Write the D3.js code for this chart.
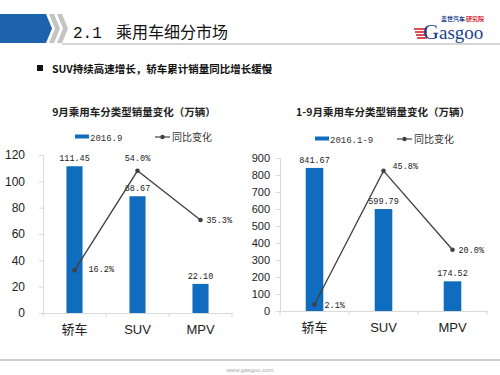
<!DOCTYPE html>
<html>
<head>
<meta charset="utf-8">
<script src="https://cdn.jsdelivr.net/npm/d3@7"></script>
<style>
  body { margin: 0; background: #fff; }
  svg { display: block; }
  .sans { font-family: "Liberation Sans", Arial, sans-serif; }
  .cjk { font-family: "Noto Sans CJK SC", sans-serif; }
  .mono { font-family: "Liberation Mono", "DejaVu Sans Mono", monospace; }
  .serif { font-family: "Liberation Serif", serif; }
</style>
</head>
<body>
<svg id="chart" width="500" height="375"></svg>
<script>
// categories and values
const categories = ["轿车", "SUV", "MPV"];
const monthSales = [111.45, 88.67, 22.10];
const monthGrowth = [0.162, 0.540, 0.353];
const ytdSales = [841.67, 599.79, 174.52];
const ytdGrowth = [0.021, 0.458, 0.200];

const leftTicks = [0, 20, 40, 60, 80, 100, 120];
const rightTicks = [0, 100, 200, 300, 400, 500, 600, 700, 800, 900];

const barColor = "#0f6cbf";
const lineColor = "#404040";
const axisColor = "#d9d9d9";

const svg = d3.select("#chart");

// ---- page header ----
svg.append("path")
  .attr("d", "M0,14 L46,14 L52,28.5 L46,43 L0,43 Z")
  .attr("fill", "#1d62ad");
[0, 8].forEach(dx => {
  svg.append("path")
    .attr("d", `M${49 + dx},14 L${54 + dx},14 L${60 + dx},28.5 L${54 + dx},43 L${49 + dx},43 L${55 + dx},28.5 Z`)
    .attr("fill", "#c4c4c4");
});
svg.append("line")
  .attr("x1", 62).attr("x2", 500).attr("y1", 44).attr("y2", 44)
  .attr("stroke", "#d6d6d6").attr("stroke-width", 2);

svg.append("text").attr("class", "mono")
  .attr("x", 73).attr("y", 38)
  .attr("font-size", 16).attr("fill", "#111")
  .text("2.1");
svg.append("text").attr("class", "cjk")
  .attr("x", 116).attr("y", 38)
  .attr("font-size", 16).attr("fill", "#111")
  .text("乘用车细分市场");

// logo
svg.append("text").attr("class", "cjk")
  .attr("x", 441).attr("y", 21)
  .attr("font-size", 6).attr("font-weight", "bold").attr("fill", "#1b3f8f")
  .text("盖世汽车");
svg.append("text").attr("class", "cjk")
  .attr("x", 466).attr("y", 21)
  .attr("font-size", 6).attr("font-weight", "bold").attr("fill", "#d3232a")
  .text("研究院");
[29, 32, 35, 38].forEach((y, i) => {
  svg.append("line")
    .attr("x1", 414 + i).attr("x2", 427).attr("y1", y).attr("y2", y)
    .attr("stroke", "#d3232a").attr("stroke-width", 1.6);
});
svg.append("text").attr("class", "serif")
  .attr("x", 423).attr("y", 39)
  .attr("font-size", 22).attr("fill", "#1b3f8f")
  .text("G");
svg.append("text").attr("class", "serif")
  .attr("x", 439).attr("y", 39)
  .attr("font-size", 19).attr("fill", "#1b3f8f")
  .text("asgoo");

// bullet line
svg.append("rect")
  .attr("x", 37).attr("y", 65).attr("width", 6).attr("height", 6)
  .attr("fill", "#111");
svg.append("text").attr("class", "cjk")
  .attr("x", 52).attr("y", 72.5)
  .attr("font-size", 10.5).attr("font-weight", "bold").attr("fill", "#111")
  .text("SUV持续高速增长，轿车累计销量同比增长缓慢");

// footer
svg.append("line")
  .attr("x1", 0).attr("x2", 500).attr("y1", 360).attr("y2", 360)
  .attr("stroke", "#bdbdbd").attr("stroke-width", 1.5);
svg.append("text").attr("class", "sans")
  .attr("x", 250).attr("y", 372).attr("text-anchor", "middle")
  .attr("font-size", 6).attr("fill", "#aaa")
  .text("www.gasgoo.com");

// ---- one combo chart ----
function drawChart(opt) {
  const g = svg.append("g");

  const x = d3.scaleBand().domain(categories).range([opt.left, opt.right]).padding(0);
  const y = d3.scaleLinear().domain([0, opt.yMax]).range([opt.bottom, opt.top]);
  const y2 = d3.scaleLinear().domain([0, opt.y2Max]).range([opt.bottom, opt.top]);
  const barW = x.bandwidth() * 0.255;
  const cx = c => x(c) + x.bandwidth() / 2;

  // title
  g.append("text").attr("class", "cjk")
    .attr("x", opt.titleX).attr("y", 116).attr("text-anchor", "middle")
    .attr("font-size", 10.5).attr("font-weight", "bold").attr("fill", "#222")
    .text(opt.title);

  // legend
  g.append("rect")
    .attr("x", opt.legX).attr("y", opt.legY - 2.5).attr("width", 14).attr("height", 4)
    .attr("fill", barColor);
  g.append("text").attr("class", "mono")
    .attr("x", opt.legX + 15).attr("y", opt.legY + 3.5)
    .attr("font-size", 9).attr("fill", "#333")
    .text(opt.seriesName);
  g.append("line")
    .attr("x1", opt.leg2X).attr("x2", opt.leg2X + 15).attr("y1", opt.legY).attr("y2", opt.legY)
    .attr("stroke", lineColor).attr("stroke-width", 1.2);
  g.append("circle")
    .attr("cx", opt.leg2X + 7.5).attr("cy", opt.legY).attr("r", 2.2)
    .attr("fill", lineColor);
  g.append("text").attr("class", "cjk")
    .attr("x", opt.leg2X + 17).attr("y", opt.legY + 3.5)
    .attr("font-size", 10).attr("fill", "#333")
    .text("同比变化");

  // y axis
  const yAxis = g.append("g")
    .attr("transform", `translate(${opt.left},0)`)
    .call(d3.axisLeft(y).tickValues(opt.ticks).tickSize(4).tickPadding(opt.tickPad));
  yAxis.select(".domain").attr("stroke", axisColor);
  yAxis.selectAll(".tick line").attr("stroke", axisColor);
  yAxis.selectAll(".tick text")
    .attr("class", "sans")
    .attr("font-size", opt.tickFont).attr("fill", "#222");

  // x axis
  const xAxis = g.append("g")
    .attr("transform", `translate(0,${opt.bottom})`)
    .call(d3.axisBottom(x).tickSize(0).tickPadding(12));
  xAxis.select(".domain").attr("stroke", axisColor);
  xAxis.selectAll(".tick text")
    .attr("class", d => /^[A-Z]+$/.test(d) ? "sans" : "cjk")
    .attr("font-size", 13).attr("fill", "#222");
  // category separators
  const edges = categories.map(c => x(c)).concat([opt.right]);
  g.selectAll("line.sep").data(edges).join("line")
    .attr("x1", d => d).attr("x2", d => d)
    .attr("y1", opt.bottom).attr("y2", opt.bottom + 4)
    .attr("stroke", axisColor);

  // bars
  g.selectAll("rect.bar").data(opt.sales).join("rect")
    .attr("x", (d, i) => cx(categories[i]) - barW / 2)
    .attr("y", d => y(d))
    .attr("width", barW)
    .attr("height", d => y(0) - y(d))
    .attr("fill", barColor);

  g.selectAll("text.val").data(opt.sales).join("text")
    .attr("class", "mono")
    .attr("x", (d, i) => cx(categories[i]))
    .attr("y", d => y(d) - 5)
    .attr("text-anchor", "middle")
    .attr("font-size", 8.5).attr("fill", "#222")
    .text(d => d.toFixed(2));

  // growth line
  const line = d3.line()
    .x((d, i) => cx(categories[i]))
    .y(d => y2(d));
  g.append("path")
    .datum(opt.growth)
    .attr("d", line)
    .attr("fill", "none")
    .attr("stroke", lineColor)
    .attr("stroke-width", 1.3);
  g.selectAll("circle.pt").data(opt.growth).join("circle")
    .attr("cx", (d, i) => cx(categories[i]))
    .attr("cy", d => y2(d))
    .attr("r", 2.3)
    .attr("fill", lineColor);

  g.selectAll("text.pct").data(opt.growth).join("text")
    .attr("class", "mono")
    .attr("x", (d, i) => cx(categories[i]) + opt.pctDx[i])
    .attr("y", (d, i) => y2(d) + opt.pctDy[i])
    .attr("text-anchor", (d, i) => opt.pctAnchor[i])
    .attr("font-size", 8.5).attr("fill", "#222")
    .text(d => d3.format(".1%")(d));
}

drawChart({
  title: "9月乘用车分类型销量变化（万辆）",
  titleX: 134,
  seriesName: "2016.9",
  legX: 75, leg2X: 155, legY: 137,
  left: 43, right: 232, top: 155, bottom: 313,
  yMax: 120, y2Max: 0.6,
  ticks: leftTicks, tickPad: 14, tickFont: 12,
  sales: monthSales, growth: monthGrowth,
  pctDx: [14, 0, 6], pctDy: [2, -10, 3], pctAnchor: ["start", "middle", "start"]
});

drawChart({
  title: "1-9月乘用车分类型销量变化（万辆）",
  titleX: 383,
  seriesName: "2016.1-9",
  legX: 315, leg2X: 397, legY: 139,
  left: 280, right: 487, top: 158, bottom: 311,
  yMax: 900, y2Max: 0.5,
  ticks: rightTicks, tickPad: 6, tickFont: 11,
  sales: ytdSales, growth: ytdGrowth,
  pctDx: [10, 9, 6], pctDy: [3, -2, 3], pctAnchor: ["start", "start", "start"]
});
</script>
</body>
</html>
